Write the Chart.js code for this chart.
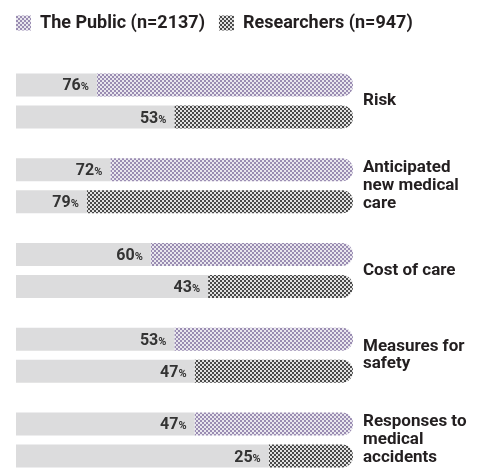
<!DOCTYPE html>
<html><head><meta charset="utf-8">
<script src="https://cdn.jsdelivr.net/npm/chart.js@4.4.1/dist/chart.umd.min.js"></script>
<style>html,body{margin:0;padding:0;background:#fff;overflow:hidden}#wrap{width:479px;height:468px;position:relative}</style>
</head><body><div id="wrap"><canvas id="c"></canvas></div>
<script>
const categories = [["Risk"], ["Anticipated", "new medical", "care"], ["Cost of care"], ["Measures for", "safety"], ["Responses to", "medical", "accidents"]];
const seriesNames = ["The Public (n=2137)", "Researchers (n=947)"];
const publicValues = [76, 72, 60, 53, 47];
const researcherValues = [53, 79, 43, 47, 25];
const scaleMax = 100;

function makePattern(bg, dot) {
  const c = document.createElement('canvas');
  c.width = 4; c.height = 4;
  const x = c.getContext('2d');
  x.fillStyle = bg; x.fillRect(0, 0, 4, 4);
  x.fillStyle = dot; x.fillRect(0, 0, 2, 2); x.fillRect(2, 2, 2, 2);
  return x.createPattern(c, 'repeat');
}
const patPublic = makePattern('#e9e7ee', '#9a8cb2');
const patResearch = makePattern('#e2e2e2', '#4a4a4a');
const trackColor = '#dcdcdd';
const radius = {topLeft: 0, bottomLeft: 0, topRight: 11, bottomRight: 11};

const percentLabels = {
  id: 'percentLabels',
  afterDatasetsDraw(chart) {
    const ctx = chart.ctx;
    ctx.save();
    ctx.fillStyle = '#333333';
    ctx.textBaseline = 'alphabetic';
    ctx.textAlign = 'right';
    [1, 3].forEach(di => {
      const meta = chart.getDatasetMeta(di);
      const vals = chart.data.datasets[di].data;
      meta.data.forEach((bar, i) => {
        const p = bar.getProps(['base', 'y'], true);
        const xr = p.base - 8;
        const yb = p.y + 5.5;
        ctx.font = 'bold 11px Roboto';
        ctx.fillText('%', xr, yb);
        const w = ctx.measureText('%').width;
        ctx.font = 'bold 16px Roboto';
        ctx.fillText(String(vals[i]), xr - w, yb);
      });
    });
    ctx.restore();
  }
};

new Chart(document.getElementById('c'), {
  type: 'bar',
  data: {
    labels: categories,
    datasets: [
      {label: 'track1', data: publicValues.map(v => scaleMax - v), stack: 'public', backgroundColor: trackColor, borderRadius: 0, xAxisID: 'x', yAxisID: 'y', clip: false},
      {label: seriesNames[0], data: publicValues, stack: 'public', backgroundColor: patPublic, borderRadius: radius, xAxisID: 'x', yAxisID: 'y', clip: false},
      {label: 'track2', data: researcherValues.map(v => scaleMax - v), stack: 'research', backgroundColor: trackColor, borderRadius: 0, xAxisID: 'x', yAxisID: 'y', clip: false},
      {label: seriesNames[1], data: researcherValues, stack: 'research', backgroundColor: patResearch, borderRadius: radius, xAxisID: 'x', yAxisID: 'y', clip: false}
    ]
  },
  options: {
    indexAxis: 'y',
    responsive: true,
    maintainAspectRatio: false,
    animation: false,
    categoryPercentage: 0.7552,
    barPercentage: 0.71875,
    layout: {padding: {left: 2, right: 0, top: 0, bottom: 28}},
    plugins: {
      tooltip: {enabled: false},
      legend: {
        position: 'top',
        align: 'start',
        labels: {
          boxWidth: 15, boxHeight: 15, padding: 14,
          color: '#231f20',
          font: {family: 'Roboto', size: 18, weight: 'bold'},
          filter: item => item.datasetIndex % 2 === 1
        }
      }
    },
    scales: {
      x: {
        type: 'linear', position: 'top', min: 0, max: scaleMax, stacked: true,
        display: true,
        grid: {display: false}, border: {display: false}, ticks: {display: false},
        afterFit: s => { s.height = 59; }
      },
      y: {
        type: 'category', position: 'right', offset: false, stacked: true,
        grid: {display: false}, border: {display: false},
        ticks: {
          autoSkip: false, padding: 2, color: '#231f20',
          font: {family: 'Roboto', size: 17, weight: 'bold', lineHeight: 1.05}
        },
        afterFit: s => { s.width = 126; }
      },
      yl: {
        axis: 'y', type: 'linear', position: 'left', display: true,
        grid: {display: false}, border: {display: false}, ticks: {display: false},
        afterFit: s => { s.width = 14; }
      }
    }
  },
  plugins: [percentLabels]
});
</script>
</body></html>
